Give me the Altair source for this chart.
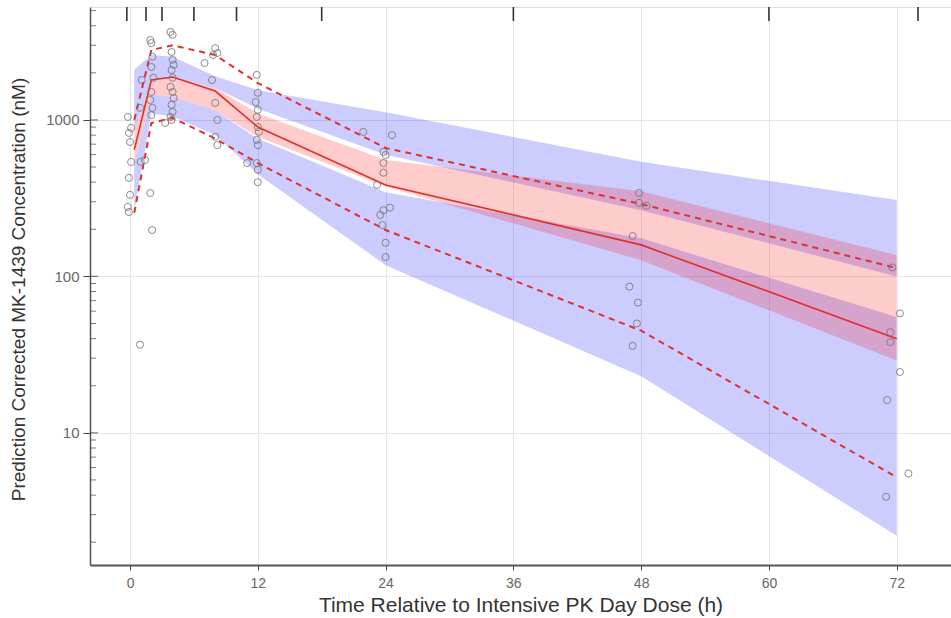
import altair as alt
import pandas as pd

# ---- data ----
bin_t = [0.4, 2, 4, 8, 12, 24, 48, 72]
obs_median = [645, 1800, 1880, 1530, 900, 384, 159, 40]
obs_p95 = [1000, 2800, 3000, 2600, 1720, 662, 290, 113]
obs_p5 = [255, 956, 1030, 760, 530, 198, 45, 5.2]

ub_hi = [2100, 2600, 2530, 1900, 1550, 1120, 540, 308]
ub_lo = [850, 1800, 1850, 1600, 1180, 600, 265, 100]
pk_hi = [850, 1800, 1850, 1600, 1100, 555, 350, 137]
pk_lo = [520, 1450, 1400, 1150, 780, 375, 127, 29]
lb_hi = [520, 1450, 1400, 1150, 760, 345, 175, 55]
lb_lo = [260, 1100, 1050, 800, 450, 118, 23, 2.2]

obs_t = [-0.2, 0.1, -0.1, 0.0, 0.1, -0.1, 0.0, -0.2, -0.1,
         0.94, 1.9, 1.0, 1.4, 0.94, 1.1, 2.07,
         1.9, 2.0, 2.1, 2.0, 2.2, 2.0, 1.9, 2.1, 2.0,
         3.8, 4.0, 3.9, 4.0, 4.1, 3.9, 4.0, 3.8, 4.0, 4.1, 3.9, 4.0, 3.8, 3.9, 3.3,
         7.0, 8.0, 8.2, 7.7, 8.0, 8.2, 8.0, 8.2, 7.8,
         11.9, 12.0, 11.8, 12.0, 11.9, 12.0, 12.1, 11.9, 12.0, 11.9, 12.0, 12.0, 11.0,
         24.6, 23.8, 24.0, 23.8, 23.8, 23.2, 24.4, 23.8, 23.5, 23.7, 24.0, 24.0, 21.9,
         47.8, 47.8, 48.5, 47.2, 46.9, 47.7, 47.6, 47.2,
         71.6, 72.3, 71.4, 71.4, 72.3, 71.1, 73.1, 71.0]
obs_conc = [1045, 889, 826, 723, 539, 426, 332, 278, 258,
            36.6, 341, 540, 555, 1195, 1800, 198,
            3240, 3100, 2530, 2180, 1860, 1510, 1340, 1195, 1075,
            3650, 3500, 2720, 2420, 2250, 2085, 1860, 1625, 1510, 1380, 1250, 1125, 1045, 1000, 957,
            2310, 2880, 2680, 1800, 1285, 1000, 780, 690, 2600,
            1940, 1490, 1300, 1160, 1045, 900, 840, 745, 690, 530, 480, 400, 530,
            800, 625, 597, 530, 460, 385, 275, 265, 247, 213, 164, 133, 838,
            341, 295, 283, 181, 86, 68, 50, 36,
            114, 58, 44, 38, 24.5, 16.2, 5.5, 3.9]

bin_edges = [-0.3, 1.5, 3, 6, 10, 18, 36, 60, 74]
x_ticks = [0, 12, 24, 36, 48, 60, 72]
y_major = [10, 100, 1000]
y_minor = [m * d for d in [1, 10, 100, 1000] for m in range(2, 10) if m * d < 5200]

X_TITLE = "Time Relative to Intensive PK Day Dose (h)"
Y_TITLE = "Prediction Corrected MK-1439 Concentration (nM)"

FONT = "Liberation Sans"
xdom = [-3.76, 77.1]
ydom = [1.43, 5270]

# ---- tables ----
bands = pd.concat([
    pd.DataFrame({"t": bin_t, "lo": ub_lo, "hi": ub_hi, "band": "ub"}),
    pd.DataFrame({"t": bin_t, "lo": lb_lo, "hi": lb_hi, "band": "lb"}),
    pd.DataFrame({"t": bin_t, "lo": pk_lo, "hi": pk_hi, "band": "pk"}),
])
lines = pd.concat([
    pd.DataFrame({"t": bin_t, "v": obs_median, "s": "median"}),
    pd.DataFrame({"t": bin_t, "v": obs_p95, "s": "p95"}),
    pd.DataFrame({"t": bin_t, "v": obs_p5, "s": "p5"}),
])
obs = pd.DataFrame({"t": obs_t, "v": obs_conc})
edges = pd.DataFrame({"t": bin_edges})
minor = pd.DataFrame({"v": y_minor})
major = pd.DataFrame({"v": y_major})

xscale = alt.Scale(domain=xdom, nice=False, zero=False)
yscale = alt.Scale(type="log", domain=ydom, nice=False)

xaxis = alt.Axis(values=x_ticks, title=X_TITLE, grid=True, gridColor="#e6e6e6",
                 labelColor="#666", labelFontSize=14, labelFont=FONT,
                 titleFont=FONT, titleFontSize=21, titleColor="#333", titleFontWeight="normal",
                 tickColor="#444", tickSize=5, domainColor="#555", domainWidth=2,
                 labelPadding=6, titlePadding=4)
yaxis = alt.Axis(values=y_major, format="d", title=Y_TITLE, grid=True, gridColor="#e6e6e6",
                 labelColor="#666", labelFontSize=15, labelFont=FONT,
                 titleFont=FONT, titleFontSize=19, titleColor="#333", titleFontWeight="normal",
                 tickColor="#444", tickSize=7, domainColor="#555", domainWidth=1.5,
                 labelPadding=4, titleX=-62, titleY=282)

base_x = alt.X("t:Q", scale=xscale, axis=xaxis)

band_layer = alt.Chart(bands).mark_area(opacity=0.2).encode(
    x=base_x,
    y=alt.Y("lo:Q", scale=yscale, axis=yaxis),
    y2="hi:Q",
    color=alt.Color("band:N", scale=alt.Scale(domain=["ub", "lb", "pk"],
                                              range=["#0000ff", "#0000ff", "#ff0000"]), legend=None),
    detail="band:N",
)

median_layer = alt.Chart(lines).transform_filter(alt.datum.s == "median").mark_line(
    color="#e0302a", strokeWidth=1.6).encode(x="t:Q", y=alt.Y("v:Q", scale=yscale))

pct_layer = alt.Chart(lines).transform_filter(alt.datum.s != "median").mark_line(
    color="#e0302a", strokeWidth=2, strokeDash=[6, 5]).encode(
    x="t:Q", y=alt.Y("v:Q", scale=yscale), detail="s:N")

pts = alt.Chart(obs).mark_point(shape="circle", filled=False, color="#777", size=50,
                                strokeWidth=1, opacity=0.85).encode(
    x="t:Q", y=alt.Y("v:Q", scale=yscale))

minor_ticks = alt.Chart(minor).mark_tick(orient="horizontal", color="#444", size=6,
                                         thickness=1).encode(
    y=alt.Y("v:Q", scale=yscale), x=alt.value(3))

major_ticks = alt.Chart(major).mark_tick(orient="horizontal", color="#444", size=8,
                                         thickness=1.2).encode(
    y=alt.Y("v:Q", scale=yscale), x=alt.value(4))

rug = alt.Chart(edges).mark_rule(color="#333", strokeWidth=1.6).encode(
    x="t:Q", y=alt.value(0), y2=alt.value(14))

chart = alt.layer(band_layer, median_layer, pct_layer, pts, minor_ticks, major_ticks, rug).properties(
    width=861, height=558,
    autosize=alt.AutoSizeParams(type="none"),
    padding={"left": 90, "top": 7, "right": 0, "bottom": 53},
).configure_view(stroke="#dddddd").configure(background="white")

chart.save("out.html", embed_options={"renderer": "svg", "actions": False})
